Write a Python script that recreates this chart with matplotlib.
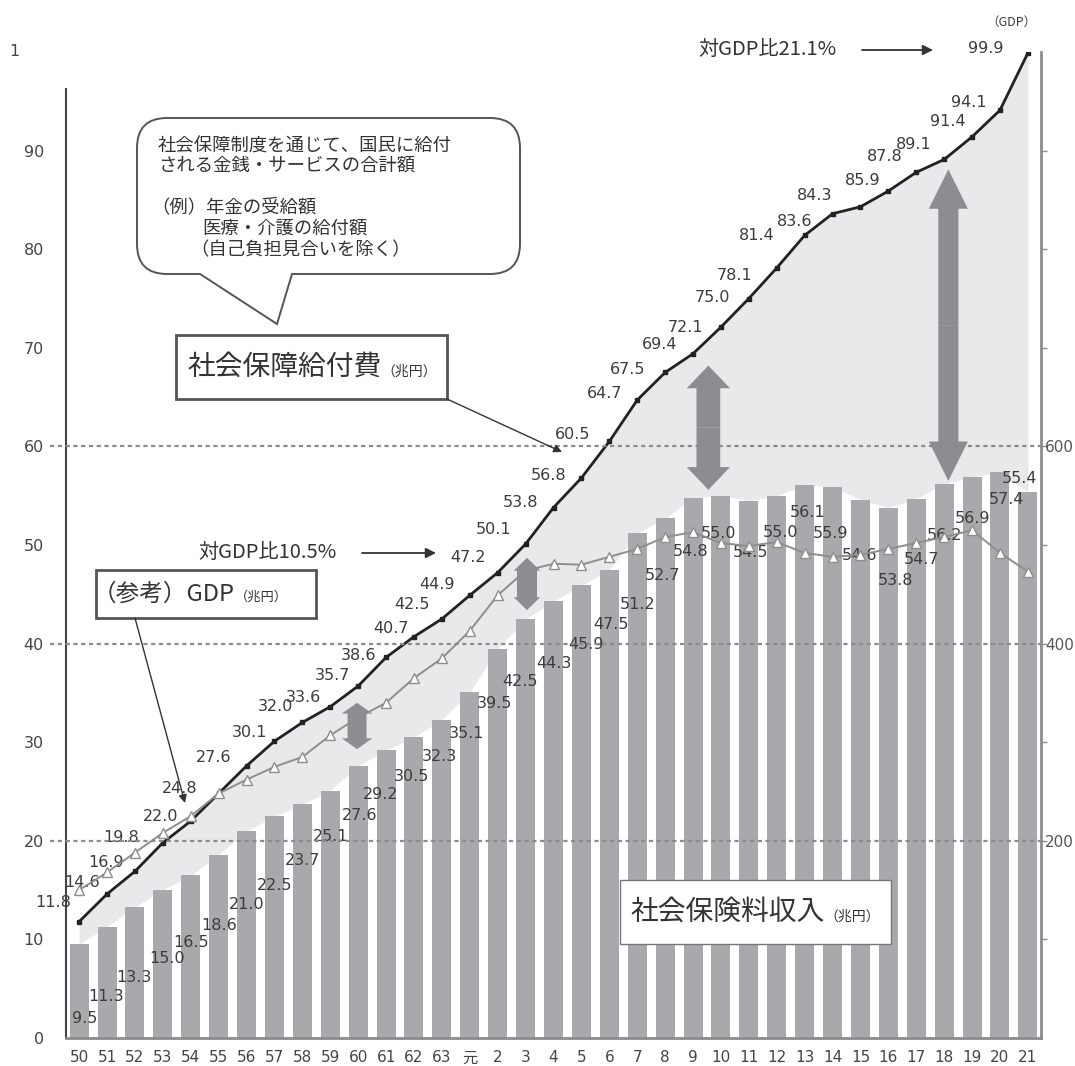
import numpy as np
import matplotlib.pyplot as plt
from matplotlib.patches import Rectangle, PathPatch, FancyArrow
from matplotlib.path import Path
from matplotlib.transforms import Affine2D

plt.rcParams["font.family"] = ["DejaVu Sans", "Noto Sans CJK JP"]

# 年度 (昭和50〜63, 平成元〜21)
years = ["50", "51", "52", "53", "54", "55", "56", "57", "58", "59", "60", "61",
         "62", "63", "元", "2", "3", "4", "5", "6", "7", "8", "9", "10", "11",
         "12", "13", "14", "15", "16", "17", "18", "19", "20", "21"]

# 社会保障給付費 (兆円)
benefit = [11.8, 14.6, 16.9, 19.8, 22.0, 24.8, 27.6, 30.1, 32.0, 33.6, 35.7,
           38.6, 40.7, 42.5, 44.9, 47.2, 50.1, 53.8, 56.8, 60.5, 64.7, 67.5,
           69.4, 72.1, 75.0, 78.1, 81.4, 83.6, 84.3, 85.9, 87.8, 89.1, 91.4,
           94.1, 99.9]

# 社会保険料収入 (兆円)
premium = [9.5, 11.3, 13.3, 15.0, 16.5, 18.6, 21.0, 22.5, 23.7, 25.1, 27.6,
           29.2, 30.5, 32.3, 35.1, 39.5, 42.5, 44.3, 45.9, 47.5, 51.2, 52.7,
           54.8, 55.0, 54.5, 55.0, 56.1, 55.9, 54.6, 53.8, 54.7, 56.2, 56.9,
           57.4, 55.4]

# (参考) GDP (兆円, 右軸)
gdp = [150, 168, 188, 208, 225, 248, 262, 275, 285, 307, 325, 340, 365, 385,
       413, 449, 474, 481, 480, 488, 496, 508, 513, 502, 499, 503, 492, 488,
       490, 496, 502, 508, 515, 492, 473]

# 数値ラベルの置き場所 (x: 年度きざみ, y: 兆円)
ben_dx = [-0.93, -0.9, -1.04, -1.5, -1.08, -1.41, -1.19, -0.9, -0.98, -0.97,
          -0.93, -1.0, -0.83, -1.08, -1.17, -1.06, -1.15, -1.18, -1.18, -1.33,
          -1.15, -1.36, -1.19, -1.28, -1.3, -1.5, -1.71, -1.36, -1.63, -0.91,
          -1.12, -1.09, -0.86, -1.12, -1.5]
ben_dy = [1.9, 1.2, 0.9, 0.5, 0.5, 0.5, 0.8, 0.9, 1.6, 0.9, 1.1, 0.2, 0.8, 1.5,
          1.1, 1.5, 1.5, 0.5, 0.2, 0.7, 0.7, 0.3, 0.9, 0.0, 0.1, -0.8, 0.0,
          -0.8, 1.1, 1.1, 1.6, 1.5, 1.6, 0.8, 0.5]
prem_dx = [0.2, -0.05, -0.05, 0.15, 0, 0, 0, 0, 0, 0, 0.05, -0.2, -0.1, -0.1,
           -0.1, -0.1, -0.2, 0, 0.18, 0.05, 0, -0.1, -0.1, -0.1, 0.05, 0.15,
           0.1, -0.08, -0.05, 0.25, 0.2, 0, 0, 0.25, -0.3]
prem_dy = [-7.5, -7.1, -7.2, -6.9, -6.8, -7.2, -7.5, -7.0, -5.7, -4.7, -5.0,
           -4.5, -4.0, -3.7, -4.2, -5.6, -6.3, -6.3, -6.0, -5.6, -7.2, -5.8,
           -5.5, -3.8, -5.3, -3.7, -2.8, -4.7, -5.7, -7.4, -6.2, -5.2, -4.2,
           -2.8, 1.3]

W, H = 1075, 1066
TXT = "#3c3c3c"
GRID = "#8c8c8c"
JP = "Noto Sans CJK JP"

fig = plt.figure(figsize=(W / 100, H / 100), dpi=100)
ax = fig.add_axes([66 / W, 28 / H, 975 / W, 986 / H])
ax2 = ax.twinx()
# 画像のピクセル座標 (左上原点) で置く注記用
px = Affine2D().scale(1 / W, -1 / H).translate(0, 1) + fig.transFigure

x = np.arange(len(years))
ax.fill_between(x, premium, benefit, color="#e9e9eb", lw=0, zorder=1)
ax.bar(x, premium, width=0.68, color="#a9a9ad", zorder=2)
ax.plot(x, benefit, color="#222222", lw=2.0, marker="s", ms=3.5, zorder=5)

for i, v in enumerate(benefit):
    ax.text(i + ben_dx[i], v + ben_dy[i], f"{v:.1f}", ha="center", va="center",
            fontsize=11.5, color=TXT, zorder=6)
for i, v in enumerate(premium):
    ax.text(i + prem_dx[i], v + prem_dy[i], f"{v:.1f}", ha="center",
            va="center", fontsize=11.5, color=TXT, zorder=6)

ax2.plot(x, gdp, color="#8e8e8e", lw=1.4, marker="^", ms=6.5, mfc="white",
         mec="#8e8e8e", mew=1.0, zorder=2)

# 補助線 (右軸 200/400/600)
for v in (200, 400, 600):
    ax2.plot([-1.05, 34.47], [v, v], color=GRID, lw=1.6, ls=(0, (1.9, 1.6)),
             clip_on=False, zorder=4)

# 差を示す太い両矢印 (左軸の値で指定)
def double_arrow(xc, ytop, ybot, shaft, head, hlen):
    ymid = (ytop + ybot) / 2
    for y_end in (ytop, ybot):
        a = FancyArrow(xc, ymid, 0, y_end - ymid, width=shaft, head_width=head,
                       head_length=hlen, length_includes_head=True,
                       color="#8d8d91", lw=0, transform=ax.transData,
                       zorder=3)
        ax2.add_patch(a)

double_arrow(9.96, 34.0, 29.3, 0.68, 1.1, 1.1)
double_arrow(16.05, 48.7, 43.4, 0.72, 0.95, 1.3)
double_arrow(22.55, 68.2, 55.6, 0.85, 1.55, 2.3)
double_arrow(31.15, 88.1, 56.5, 0.72, 1.4, 4.0)

ax.set_xlim(-0.47, 34.47)
ax.set_ylim(0, 100)
ax2.set_ylim(0, 1000)

for s in ("top", "right"):
    ax.spines[s].set_visible(False)
for s in ("top", "left", "bottom"):
    ax2.spines[s].set_visible(False)
ax.spines["left"].set_bounds(0, 96.2)
ax.spines["left"].set_color("#444444")
ax.spines["left"].set_linewidth(1.5)
ax.spines["bottom"].set_color(GRID)
ax.spines["bottom"].set_linewidth(2)
ax2.spines["right"].set_color(GRID)
ax2.spines["right"].set_linewidth(2)

ax.set_yticks(range(0, 100, 10))
ax.tick_params(axis="y", length=0, pad=16, labelsize=11.5, labelcolor="#444444")
ax.set_xticks(x, years)
ax.tick_params(axis="x", length=0, pad=9, labelsize=11, labelcolor="#444444")

rticks = list(range(100, 1000, 100))
ax2.set_yticks(rticks, [str(v) if v in (200, 400, 600) else "" for v in rticks])
ax2.tick_params(axis="y", length=4, width=1, color=GRID, pad=-1,
                labelsize=11, labelcolor="#555555")

fig.text(14, 52, "1", transform=px, ha="center", va="center", fontsize=11.5,
         color="#444444")
ax2.text(1011, 22, "（GDP）", transform=px, ha="center", va="center",
         fontsize=9, color=TXT, family=JP, clip_on=False, zorder=10)


# 吹き出し
def bubble(x0, y0, x1, y1, r, b0, b1, tip):
    verts = [(x0 + r, y0), (x1 - r, y0), (x1, y0), (x1, y0 + r), (x1, y1 - r),
             (x1, y1), (x1 - r, y1), (b1, y1), tip, (b0, y1), (x0 + r, y1),
             (x0, y1), (x0, y1 - r), (x0, y0 + r), (x0, y0), (x0 + r, y0),
             (x0 + r, y0)]
    codes = [Path.MOVETO, Path.LINETO, Path.CURVE3, Path.CURVE3, Path.LINETO,
             Path.CURVE3, Path.CURVE3, Path.LINETO, Path.LINETO, Path.LINETO,
             Path.LINETO, Path.CURVE3, Path.CURVE3, Path.LINETO, Path.CURVE3,
             Path.CURVE3, Path.CLOSEPOLY]
    return PathPatch(Path(verts, codes), transform=px, facecolor="white",
                     edgecolor="#555555", lw=1.4, clip_on=False, zorder=8)

ax2.add_patch(bubble(137, 118, 520, 274, 30, 200, 292, (277, 324)))
bubble_lines = [
    (158, 147, "社会保障制度を通じて、国民に給付"),
    (158, 166, "される金銭・サービスの合計額"),
    (151, 208, "（例）年金の受給額"),
    (202, 229, "医療・介護の給付額"),
    (190, 250, "（自己負担見合いを除く）"),
]
for bx, by, s in bubble_lines:
    ax2.text(bx, by, s, transform=px, ha="left", va="center", fontsize=13.2,
             color="#333333", family=JP, clip_on=False, zorder=9)


def label_box(x0, y0, x1, y1, big, small, fs, fs_small, tx, lw=2,
              ec="#555555"):
    ax2.add_patch(Rectangle((x0, y0), x1 - x0, y1 - y0, transform=px,
                            facecolor="white", edgecolor=ec, lw=lw,
                            clip_on=False, zorder=8))
    t = ax2.text(tx, (y0 + y1) / 2, big, transform=px, ha="left", va="center",
                 fontsize=fs, color="#333333", family=JP,
                 clip_on=False, zorder=9)
    ax2.annotate(small, xy=(1, 0.34), xycoords=t, ha="left", va="center",
                 fontsize=fs_small, color="#333333", family=JP,
                 annotation_clip=False, zorder=9)

label_box(176, 335, 447, 399, "社会保障給付費", "（兆円）", 20, 10, 187)
label_box(96, 570, 316, 618, "（参考）GDP", "（兆円）", 17, 9.5, 93)
label_box(620, 880, 891, 944, "社会保険料収入", "（兆円）", 20, 10, 630,
          lw=1, ec="#777777")

arrow_kw = dict(arrowstyle="-|>", color="#333333", lw=1, mutation_scale=12,
                shrinkA=0, shrinkB=0)
ax2.annotate("", xy=(562, 452), xycoords=px, xytext=(447, 399), textcoords=px,
             arrowprops=arrow_kw, annotation_clip=False, zorder=9)
ax2.annotate("", xy=(185, 803), xycoords=px, xytext=(135, 618), textcoords=px,
             arrowprops=arrow_kw, annotation_clip=False, zorder=9)

ratio_kw = dict(arrowstyle="-|>", color="#333333", lw=1.3, mutation_scale=15,
                shrinkA=0, shrinkB=0)
ax2.text(198, 553, "対GDP比10.5%", transform=px, ha="left", va="center",
         fontsize=14.5, color="#333333", family=JP,
         clip_on=False, zorder=9)
ax2.annotate("", xy=(436, 553), xycoords=px, xytext=(362, 553), textcoords=px,
             arrowprops=ratio_kw, annotation_clip=False, zorder=9)
ax2.text(698, 50, "対GDP比21.1%", transform=px, ha="left", va="center",
         fontsize=14.5, color="#333333", family=JP,
         clip_on=False, zorder=9)
ax2.annotate("", xy=(933, 50), xycoords=px, xytext=(862, 50), textcoords=px,
             arrowprops=ratio_kw, annotation_clip=False, zorder=9)

fig.savefig("out.png", dpi=100, facecolor="white")
